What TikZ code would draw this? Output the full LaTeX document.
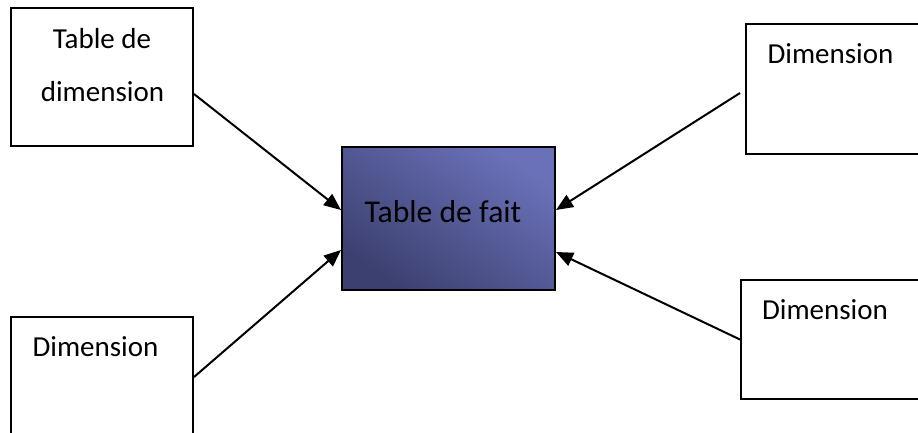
\documentclass[tikz,border=0pt]{standalone}
\usepackage{fontspec}
\setmainfont{Carlito}
\usetikzlibrary{arrows.meta}
\definecolor{faitdark}{RGB}{60,64,112}
\definecolor{faitlight}{RGB}{106,113,184}

\begin{document}
\begin{tikzpicture}[x=1pt, y=-1pt,
  box/.style={rectangle, draw, line width=2pt, inner sep=0pt},
  lbl/.style={font=\fontsize{29}{29}\selectfont, inner sep=0pt, anchor=base},
  link/.style={line width=2pt, -{Triangle[length=17pt,width=14pt]}}]
  \useasboundingbox (0,0) rectangle (918,432);
  \clip (0,0) rectangle (918,432);
  \node[box, minimum width=182pt, minimum height=138pt] (tl) at (102,77) {};
  \node[box, minimum width=182pt, minimum height=153pt] (bl) at (102,393.5) {};
  \node[box, minimum width=214pt, minimum height=130pt] (tr) at (853,89) {};
  \node[box, minimum width=219pt, minimum height=119pt] (br) at (850.5,339.5) {};
  \node[box, minimum width=213pt, minimum height=143pt, shading=axis,
        left color=faitlight, right color=faitdark, shading angle=-35] (fait) at (448.5,218.5) {};
  \node[lbl] (tltxtA) at (102,48) {Table de};
  \node[lbl] (tltxtB) at (102.5,101) {dimension};
  \node[lbl] (bltxt) at (95.5,356) {Dimension};
  \node[lbl] (trtxt) at (830.5,63) {Dimension};
  \node[lbl] (brtxt) at (825,319) {Dimension};
  \node[lbl, font=\fontsize{31.7}{32}\selectfont] (faittxt) at (443,222) {Table de fait};
  \draw[link] ([yshift=-17pt]tl.east) -- ([yshift=8.5pt]fait.west);
  \draw[link] ([yshift=16.5pt]bl.east) -- ([yshift=-31.5pt]fait.west);
  \draw[link] ([xshift=-5pt,yshift=-4pt]tr.west) -- ([yshift=8.5pt]fait.east);
  \draw[link] (br.west) -- ([yshift=-33.5pt]fait.east);
\end{tikzpicture}
\end{document}
